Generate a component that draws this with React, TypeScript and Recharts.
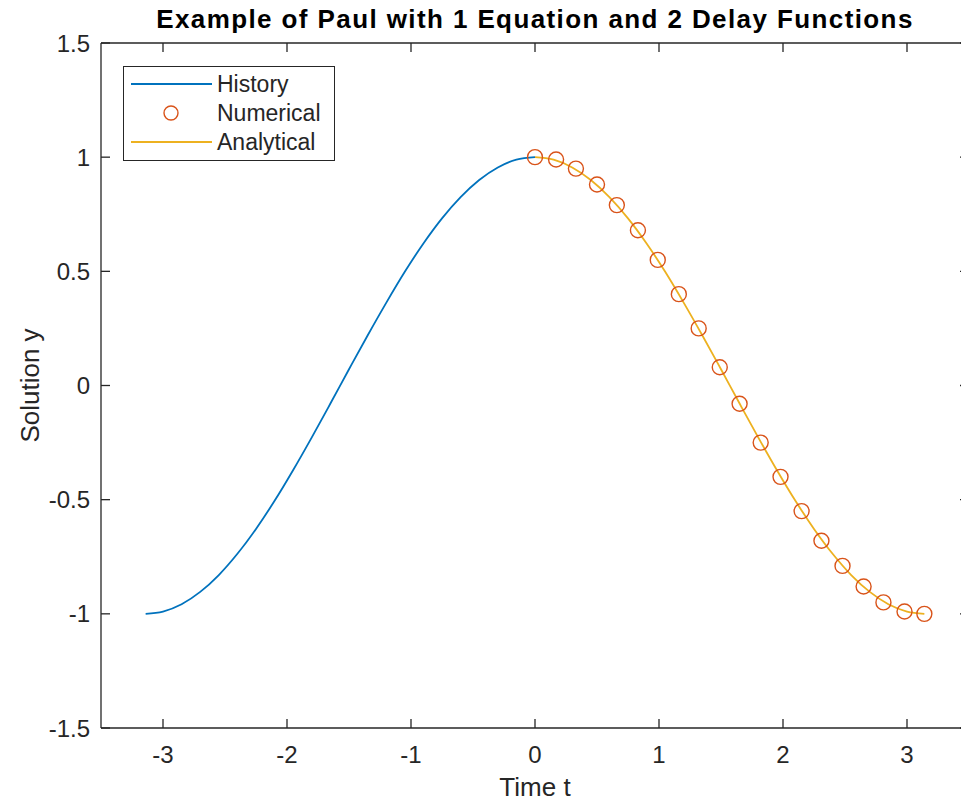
import React from 'react';
import {
  ComposedChart,
  Line,
  Scatter,
  XAxis,
  YAxis,
  Legend,
} from 'recharts';

// history segment, t in [-pi, 0]
const historyT = [
  -3.14, -3.0, -2.85, -2.7, -2.55, -2.4, -2.25, -2.1, -1.95, -1.8, -1.65,
  -1.5, -1.35, -1.2, -1.05, -0.9, -0.75, -0.6, -0.45, -0.3, -0.15, 0,
];
const historyY = [
  -1.0, -0.99, -0.958, -0.904, -0.83, -0.737, -0.628, -0.505, -0.37, -0.227,
  -0.079, 0.071, 0.219, 0.362, 0.498, 0.622, 0.732, 0.825, 0.9, 0.955, 0.989,
  1.0,
];

// numerical solution markers
const numericalT = [
  0, 0.17, 0.33, 0.5, 0.66, 0.83, 0.99, 1.16, 1.32, 1.49, 1.65, 1.82, 1.98,
  2.15, 2.31, 2.48, 2.65, 2.81, 2.98, 3.14,
];
const numericalY = [
  1.0, 0.99, 0.95, 0.88, 0.79, 0.68, 0.55, 0.4, 0.25, 0.08, -0.08, -0.25,
  -0.4, -0.55, -0.68, -0.79, -0.88, -0.95, -0.99, -1.0,
];

// analytical curve, t in [0, pi]
const analyticalT = [
  0, 0.15, 0.3, 0.45, 0.6, 0.75, 0.9, 1.05, 1.2, 1.35, 1.5, 1.65, 1.8, 1.95,
  2.1, 2.25, 2.4, 2.55, 2.7, 2.85, 3.0, 3.14,
];
const analyticalY = [
  1.0, 0.989, 0.955, 0.9, 0.825, 0.732, 0.622, 0.498, 0.362, 0.219, 0.071,
  -0.079, -0.227, -0.37, -0.505, -0.628, -0.737, -0.83, -0.904, -0.958, -0.99,
  -1.0,
];

const xTicks = [-3, -2, -1, 0, 1, 2, 3];
const yTicks = [-1.5, -1, -0.5, 0, 0.5, 1, 1.5];

const seriesNames = ['History', 'Numerical', 'Analytical'];
const BLUE = '#0072BD';
const ORANGE = '#D95319';
const YELLOW = '#EDB120';
const AXIS = '#262626';
const FONT = '"Liberation Sans", Arial, Helvetica, sans-serif';

const toPoints = (ts: number[], ys: number[]) =>
  ts.map((t, i) => ({ t, y: ys[i] }));

const historyData = toPoints(historyT, historyY);
const numericalData = toPoints(numericalT, numericalY);
const analyticalData = toPoints(analyticalT, analyticalY);

const blank = () => '';

function Marker(props: any) {
  const { cx, cy } = props;
  if (cx == null || cy == null) return null;
  return <circle cx={cx} cy={cy} r={7.5} fill="none" stroke={ORANGE} strokeWidth={1.4} />;
}

function LegendBox() {
  const rows = [
    { name: seriesNames[0], kind: 'line', color: BLUE },
    { name: seriesNames[1], kind: 'circle', color: ORANGE },
    { name: seriesNames[2], kind: 'line', color: YELLOW },
  ];
  return (
    <div
      style={{
        border: `1.5px solid ${AXIS}`,
        background: '#fff',
        width: 210,
        padding: '2px 0 4px 0',
        fontFamily: FONT,
        fontSize: 23,
        color: AXIS,
      }}
    >
      {rows.map((r) => (
        <div key={r.name} style={{ display: 'flex', alignItems: 'center', height: 29 }}>
          <svg width={92} height={20} style={{ flex: 'none' }}>
            {r.kind === 'line' ? (
              <line x1={7} x2={88} y1={10} y2={10} stroke={r.color} strokeWidth={1.8} />
            ) : (
              <circle cx={47} cy={10} r={7} fill="none" stroke={r.color} strokeWidth={1.4} />
            )}
          </svg>
          <span style={{ marginLeft: 1, lineHeight: '24px' }}>{r.name}</span>
        </div>
      ))}
    </div>
  );
}

export default function App() {
  return (
    <div
      style={{
        position: 'absolute',
        left: 0,
        top: 0,
        width: 961,
        height: 802,
        overflow: 'hidden',
        background: '#fff',
      }}
    >
      <ComposedChart
        width={980}
        height={802}
        margin={{ top: 42, right: 0, bottom: 0, left: 0 }}
        style={{ fontFamily: FONT }}
      >
        <XAxis
          xAxisId="b"
          dataKey="t"
          type="number"
          domain={[-3.5, 3.5]}
          ticks={xTicks}
          allowDataOverflow
          height={74}
          tickSize={-9}
          tickMargin={27}
          stroke={AXIS}
          strokeWidth={1.3}
          tick={{ fill: AXIS, fontSize: 24 }}
          label={{
            content: (p: any) => {
              const vb = p.viewBox;
              return (
                <text
                  x={vb.x + vb.width / 2}
                  y={vb.y + 68}
                  textAnchor="middle"
                  fill={AXIS}
                  fontSize={26}
                  fontFamily={FONT}
                >
                  Time t
                </text>
              );
            },
          }}
        />
        <XAxis
          xAxisId="top"
          dataKey="t"
          type="number"
          orientation="top"
          domain={[-3.5, 3.5]}
          ticks={xTicks}
          allowDataOverflow
          height={1}
          tickSize={-9}
          tickFormatter={blank}
          stroke={AXIS}
          strokeWidth={1.3}
          label={{
            content: (p: any) => {
              const vb = p.viewBox;
              return (
                <text
                  x={vb.x + vb.width / 2}
                  y={vb.y - 14}
                  textAnchor="middle"
                  fill="#000"
                  fontSize={26}
                  fontWeight="bold"
                  letterSpacing={1.4}
                  fontFamily={FONT}
                >
                  Example of Paul with 1 Equation and 2 Delay Functions
                </text>
              );
            },
          }}
        />
        <YAxis
          yAxisId="l"
          dataKey="y"
          type="number"
          domain={[-1.5, 1.5]}
          ticks={yTicks}
          allowDataOverflow
          width={101}
          tickSize={-9}
          tickMargin={20}
          stroke={AXIS}
          strokeWidth={1.3}
          tick={{ fill: AXIS, fontSize: 24 }}
          label={{
            content: (p: any) => {
              const vb = p.viewBox;
              const cx = 30;
              const cy = vb.y + vb.height / 2;
              return (
                <text
                  x={cx}
                  y={cy}
                  transform={`rotate(-90 ${cx} ${cy})`}
                  textAnchor="middle"
                  dominantBaseline="central"
                  fill={AXIS}
                  fontSize={26}
                  fontFamily={FONT}
                >
                  Solution y
                </text>
              );
            },
          }}
        />
        <YAxis
          yAxisId="r"
          type="number"
          orientation="right"
          domain={[-1.5, 1.5]}
          ticks={yTicks}
          allowDataOverflow
          width={11}
          tickSize={-9}
          tickFormatter={blank}
          stroke={AXIS}
          strokeWidth={1.3}
        />
        <Legend
          layout="vertical"
          align="center"
          verticalAlign="middle"
          wrapperStyle={{ left: 123, top: 66, width: 'auto' }}
          content={() => <LegendBox />}
        />
        <Line
          xAxisId="b"
          yAxisId="l"
          data={historyData}
          dataKey="y"
          name={seriesNames[0]}
          type="monotone"
          stroke={BLUE}
          strokeWidth={1.8}
          dot={false}
          isAnimationActive={false}
        />
        <Line
          xAxisId="b"
          yAxisId="l"
          data={analyticalData}
          dataKey="y"
          name={seriesNames[2]}
          type="monotone"
          stroke={YELLOW}
          strokeWidth={1.8}
          dot={false}
          isAnimationActive={false}
        />
        <Scatter
          xAxisId="b"
          yAxisId="l"
          data={numericalData}
          dataKey="y"
          name={seriesNames[1]}
          shape={<Marker />}
          isAnimationActive={false}
        />
      </ComposedChart>
    </div>
  );
}
